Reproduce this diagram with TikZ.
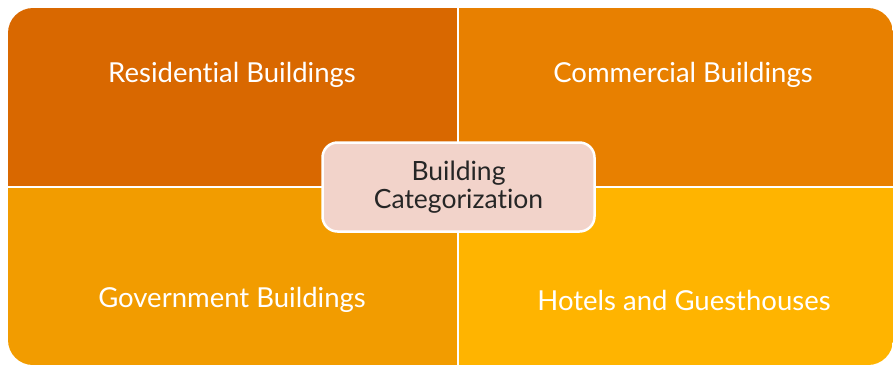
\documentclass[tikz,border=0pt]{standalone}
\usepackage{fontspec}
\setmainfont[Ligatures={NoCommon}]{Lato}
\definecolor{qtl}{HTML}{D96800}
\definecolor{qtr}{HTML}{E88000}
\definecolor{qbl}{HTML}{F29C00}
\definecolor{qbr}{HTML}{FFB400}
\definecolor{cfill}{HTML}{F2D3CA}
\definecolor{ctext}{HTML}{262626}
\begin{document}
\begin{tikzpicture}[x=1pt,y=-1pt,
  qlabel/.style={text=white,font=\fontsize{27.5}{32}\selectfont,anchor=center},
  centerbox/.style={draw=white,line width=2.5pt,fill=cfill,rounded corners=15pt,
    minimum width=272pt,minimum height=89pt,align=center,text=ctext,
    font=\fontsize{26.5}{28}\selectfont}]
\useasboundingbox (0,0) rectangle (896,365);
\begin{scope}
  \clip[rounded corners=25pt] (8,8) rectangle (893,365);
  \fill[qtl] (8,8) rectangle (458,187);
  \fill[qtr] (458,8) rectangle (893,187);
  \fill[qbl] (8,187) rectangle (458,365);
  \fill[qbr] (458,187) rectangle (893,365);
\end{scope}
\draw[white,line width=2.5pt] (458,8) -- (458,365);
\draw[white,line width=2.5pt] (8,187) -- (893,187);
\node[qlabel] (tl) at (232,75) {Residential Buildings};
\node[qlabel] (tr) at (683,75) {Commercial Buildings};
\node[qlabel] (bl) at (232,300) {Government Buildings};
\node[qlabel] (br) at (684,300) {Hotels and Guesthouses};
\node[centerbox] (c) at (458.5,187) {Building\\Categorization};
\end{tikzpicture}
\end{document}
